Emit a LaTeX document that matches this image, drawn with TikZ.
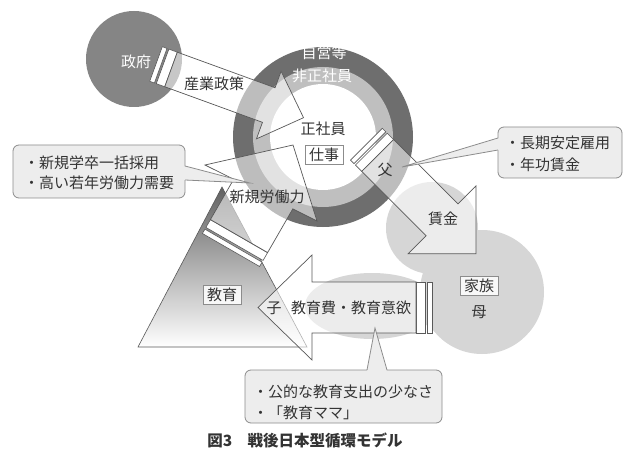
\documentclass[tikz,border=0pt]{standalone}
\usepackage{fontspec}
\setmainfont{Noto Sans CJK JP}
\definecolor{ringdark}{gray}{0.43}
\definecolor{ringlight}{gray}{0.75}
\definecolor{govgrey}{gray}{0.52}
\definecolor{cloudgrey}{gray}{0.84}
\definecolor{notefill}{gray}{0.93}
\definecolor{ink}{gray}{0.2}
\definecolor{edge}{gray}{0.35}
\tikzset{
  lbl/.style={font=\fontsize{15}{21}\selectfont, text=ink, inner sep=0pt},
  wlbl/.style={lbl, text=white},
  tagbox/.style={lbl, draw=black!45, fill=white, fill opacity=0.85, text opacity=1, inner xsep=4pt, inner ysep=2.5pt, line width=0.6pt},
  flow/.style={fill=white, fill opacity=0.55, draw=edge, line width=0.7pt, line join=miter},
  barst/.style={fill=white, draw=edge, line width=0.6pt},
  notebox/.style={fill=notefill, draw=black!45, line width=0.8pt, rounded corners=6pt},
  notetip/.style={fill=notefill},
  noteline/.style={draw=black!45, line width=0.8pt, line join=miter},
}
\newcommand{\blkarrow}[7]{% x y rot bodylen bodyhw headhw headlen
  \begin{scope}[shift={(#1,#2)}, rotate=#3]
    \draw[barst] (0,-#5) rectangle (5,#5);
    \draw[barst] (7,-#5) rectangle (16,#5);
    \draw[flow] (16,-#5) -- (#4,-#5) -- (#4,-#6) -- ({#4+#7},0) -- (#4,#6) -- (#4,#5) -- (16,#5) -- cycle;
  \end{scope}}
\begin{document}
\begin{tikzpicture}[x=1pt,y=-1pt]
\useasboundingbox (0,0) rectangle (625,452);
\fill[white] (0,0) rectangle (625,452);

% family cloud
\fill[cloudgrey] (432,228) circle (46pt) (482,292) circle (62pt) (372,306) ellipse (67pt and 33pt);

% government
\fill[govgrey] (134,59) circle (48pt);

% ring
\fill[ringdark] (323,137) circle (90pt);
\fill[ringlight] (323,137) circle (70pt);
\fill[white] (323,137) circle (53pt);

% education triangle
\shadedraw[top color=black!62, bottom color=white, draw=edge, line width=0.6pt]
  (222,187) -- (307,347) -- (138,347) -- cycle;

% arrows
\blkarrow{156}{64}{-20}{120}{18.4}{36}{37}
\blkarrow{366.4}{144.2}{-45}{107}{22.5}{48}{48}
\blkarrow{432}{307.5}{180}{120}{25.5}{52.5}{54}
\begin{scope}[shift={(231,250)}, rotate=60]
  \draw[barst] (0,-33) rectangle (5,33);
  \draw[barst] (7,-33) rectangle (16,33);
\end{scope}
\draw[flow] (210.4,219.6) -- (233.7,179.3) -- (205,165) -- (293,145) -- (317,221)
  -- (292.8,208.9) -- (267.6,252.6) -- cycle;

% labels
\node[wlbl] (gov) at (136,62) {政府};
\node[lbl] (policy) at (214,84) {産業政策};
\node[wlbl] (self) at (324,53) {自営等};
\node[wlbl] (nonreg) at (322,76) {非正社員};
\node[lbl] (reg) at (323,129) {正社員};
\node[tagbox] (work) at (324,155) {仕事};
\node[lbl] (father) at (385,170) {父};
\node[lbl] (wage) at (443,219) {賃金};
\node[tagbox] (family) at (479,286) {家族};
\node[lbl] (mother) at (479,312) {母};
\node[lbl] (newlab) at (267,197) {新規労働力};
\node[tagbox] (edu) at (222,295) {教育};
\node[lbl] (child) at (274,308) {子};
\node[lbl] (educost) at (351,308) {教育費・教育意欲};

% callout left
\draw[notebox] (13,145) rectangle (185,198);
\fill[notetip] (183.5,166) -- (250,183) -- (183.5,180) -- cycle;
\draw[noteline] (185,166) -- (250,183) -- (185,180);
\node[lbl, anchor=west, align=left, font=\fontsize{15}{20}\selectfont] (note1) at (24,173) {・新規学卒一括採用\\・高い若年労働力需要};

% callout right
\draw[notebox] (498,127) rectangle (622,178);
\fill[notetip] (499.5,138) -- (402,167) -- (499.5,150) -- cycle;
\draw[noteline] (498,138) -- (402,167) -- (498,150);
\node[lbl, anchor=west, align=left, font=\fontsize{15}{22}\selectfont] (note2) at (505,154) {・長期安定雇用\\・年功賃金};

% callout bottom
\draw[notebox] (245,370) rectangle (442,423);
\fill[notetip] (367,371.5) -- (375,328) -- (387,371.5) -- cycle;
\draw[noteline] (367,370) -- (375,328) -- (387,370);
\node[lbl, anchor=west, align=left, font=\fontsize{15}{21}\selectfont] (note3) at (253,402) {・公的な教育支出の少なさ\\・「教育ママ」};

% caption
\node[lbl, font=\fontsize{15.5}{18}\selectfont\bfseries] (cap) at (305,440) {図3　戦後日本型循環モデル};
\end{tikzpicture}
\end{document}
